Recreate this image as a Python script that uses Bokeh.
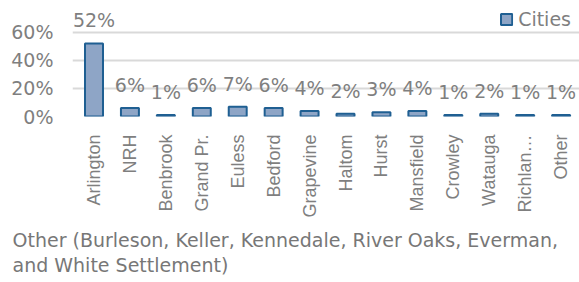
from bokeh.plotting import figure
from bokeh.models import FixedTicker, Title, ColumnDataSource, Range1d
from bokeh.core.properties import value
from bokeh.embed import file_html
from bokeh.resources import INLINE
import math

categories = ["Arlington", "NRH", "Benbrook", "Grand Pr.", "Euless", "Bedford",
              "Grapevine", "Haltom", "Hurst", "Mansfield", "Crowley", "Watauga",
              "Richlan\u2026", "Other"]
values = [52, 6, 1, 6, 7, 6, 4, 2, 3, 4, 1, 2, 1, 1]
value_labels = [f"{v}%" for v in values]
y_ticks = [0, 20, 40, 60]
y_tick_labels = ["0%", "20%", "40%", "60%"]
series_name = "Cities"
footnote_lines = ["Other (Burleson, Keller, Kennedale, River Oaks, Everman,",
                  "and White Settlement)"]

GRAY = "#7f7f7f"
MAIN = "DejaVu Sans"
NARROW = "Liberation Sans"

positions = list(range(len(categories)))
src = ColumnDataSource(dict(x=positions, val=values, lab=value_labels))

FRAME_LEFT = 72
STEP = 35.93
x_start = -(93.5 - FRAME_LEFT) / STEP
x_end = x_start + (579 - FRAME_LEFT) / STEP

p = figure(x_range=Range1d(x_start, x_end), y_range=(0, 60 * 117 / 85),
           width=579, height=282, output_backend="svg", toolbar_location=None,
           min_border_left=FRAME_LEFT, min_border_right=0, min_border_top=0,
           min_border_bottom=165)
p.outline_line_color = None
p.background_fill_color = "white"

p.vbar(x="x", top="val", width=0.5, source=src, fill_color="#8ea5c6",
       line_color="#1f5f92", line_width=2, legend_label=series_name)

p.text(x="x", y="val", text="lab", source=src, text_align="center",
       text_baseline="alphabetic", y_offset=-23, text_font=value(MAIN),
       text_font_size="19px", text_color=GRAY)

# y axis
p.yaxis.ticker = FixedTicker(ticks=y_ticks)
p.yaxis.major_label_overrides = {t: l for t, l in zip(y_ticks, y_tick_labels)}
p.yaxis.axis_line_color = None
p.yaxis.major_tick_line_color = None
p.yaxis.minor_tick_line_color = None
p.yaxis.major_tick_out = 0
p.yaxis.major_tick_in = 0
p.yaxis.major_label_standoff = 19
p.yaxis.major_label_text_font = MAIN
p.yaxis.major_label_text_font_size = "19px"
p.yaxis.major_label_text_color = GRAY

p.ygrid.ticker = FixedTicker(ticks=y_ticks)
p.ygrid.grid_line_color = "#d9d9d9"
p.ygrid.grid_line_width = 2
p.xgrid.grid_line_color = None

# x axis
p.xaxis.ticker = FixedTicker(ticks=positions)
p.xaxis.major_label_overrides = {i: c for i, c in zip(positions, categories)}
p.xaxis.axis_line_color = None
p.xaxis.major_tick_line_color = None
p.xaxis.minor_tick_line_color = None
p.xaxis.major_label_orientation = math.pi / 2
p.xaxis.major_label_standoff = 12
p.xaxis.major_label_text_font = NARROW
p.xaxis.major_label_text_font_size = "18px"
p.xaxis.major_label_text_color = GRAY

# legend
p.legend.location = "top_right"
p.legend.margin = 8
p.legend.padding = 0
p.legend.spacing = 0
p.legend.glyph_width = 14
p.legend.glyph_height = 14
p.legend.label_standoff = 5
p.legend.label_text_font = MAIN
p.legend.label_text_font_size = "19px"
p.legend.label_text_color = GRAY
p.legend.border_line_alpha = 0
p.legend.background_fill_alpha = 0

# footnote
p.add_layout(Title(text="\n".join(footnote_lines), align="left", offset=12 - FRAME_LEFT,
                   standoff=13, text_font=MAIN, text_font_size="19px",
                   text_font_style="normal", text_color="#777777",
                   text_line_height=1.15), "below")

open("out.html", "w").write(file_html(p, INLINE))
